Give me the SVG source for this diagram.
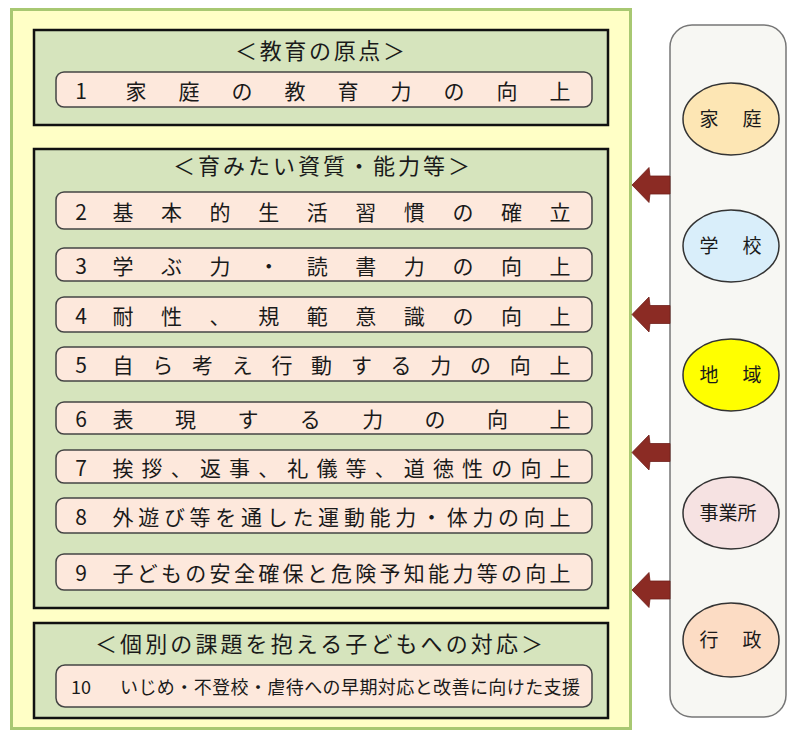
<svg xmlns="http://www.w3.org/2000/svg" width="787" height="733" viewBox="0 0 787 733">
<style>
.sec{fill:#d6e4bd;stroke:#111;stroke-width:2.5}
.pill{fill:#fde8dc;stroke:#444;stroke-width:1.5}
.ttl{font-family:"Noto Sans CJK JP","Noto Sans",sans-serif;font-size:22px;fill:#1a1a1a}
.it{font-family:"Noto Sans CJK JP","Noto Sans",sans-serif;font-size:21px;fill:#1a1a1a;text-anchor:middle}
.it10{font-family:"Noto Sans CJK JP","Noto Sans",sans-serif;font-size:18px;fill:#1a1a1a}
.ell{stroke:#333;stroke-width:1.5}
.et{font-family:"Noto Sans CJK JP","Noto Sans",sans-serif;font-size:19px;fill:#1a1a1a;text-anchor:middle}
.arr{fill:#8b2b24;stroke:#6e1f1a;stroke-width:0.8}
</style>
<rect x="0" y="0" width="787" height="733" fill="#ffffff"/>
<g id="outer">
<rect x="11.5" y="9.5" width="619" height="719" fill="#ffffc6" stroke="#a8c872" stroke-width="3"/>
</g>
<g id="panel">
<rect x="670" y="25" width="116" height="692" rx="22" fill="#f7f7f3" stroke="#777" stroke-width="1.5"/>
</g>

<g id="sec1">
<rect class="sec" x="34" y="30" width="574" height="95"/>
<text class="ttl" x="235" y="59" textLength="170" lengthAdjust="spacing">＜教育の原点＞</text>
</g>
<g id="item1">
<rect class="pill" x="56" y="72" width="536" height="35" rx="8"/>
<text class="it" x="81 136 189 242 295 348 401 454 507 560" y="98.5">1家庭の教育力の向上</text>
</g>

<g id="sec2">
<rect class="sec" x="34" y="149" width="574" height="459"/>
<text class="ttl" x="173" y="174" textLength="297" lengthAdjust="spacing">＜育みたい資質・能力等＞</text>
</g>
<g id="item2">
<rect class="pill" x="56" y="192" width="536" height="37" rx="8"/>
<text class="it" x="81 123 171.6 220.1 268.7 317.2 365.8 414.3 462.9 511.4 560" y="219.5">2基本的生活習慣の確立</text>
</g>
<g id="item3">
<rect class="pill" x="56" y="248" width="536" height="33" rx="8"/>
<text class="it" x="81 123 171.6 220.1 268.7 317.2 365.8 414.3 462.9 511.4 560" y="273.5">3学ぶ力・読書力の向上</text>
</g>
<g id="item4">
<rect class="pill" x="56" y="297" width="536" height="35" rx="8"/>
<text class="it" x="81 123 171.6 220.1 268.7 317.2 365.8 414.3 462.9 511.4 560" y="323.5">4耐性、規範意識の向上</text>
</g>
<g id="item5">
<rect class="pill" x="56" y="347" width="536" height="34" rx="8"/>
<text class="it" x="81 123 162.7 202.5 242.2 281.9 321.6 361.4 401.1 440.8 480.5 520.3 560" y="373">5自ら考え行動する力の向上</text>
</g>
<g id="item6">
<rect class="pill" x="56" y="402" width="536" height="32" rx="8"/>
<text class="it" x="81 123 185.4 247.9 310.3 372.7 435.1 497.6 560" y="427">6表現する力の向上</text>
</g>
<g id="item7">
<rect class="pill" x="56" y="450" width="536" height="33" rx="8"/>
<text class="it" x="81 123 152.1 181.3 210.4 239.5 268.7 297.8 326.9 356.1 385.2 414.3 443.5 472.6 501.7 530.9 560" y="475.5">7挨拶、返事、礼儀等、道徳性の向上</text>
</g>
<g id="item8">
<rect class="pill" x="56" y="498" width="536" height="35" rx="8"/>
<text class="it" x="81 123 148.7 174.4 200.1 225.8 251.5 277.2 302.9 328.6 354.4 380.1 405.8 431.5 457.2 482.9 508.6 534.3 560" y="524.5">8外遊び等を通した運動能力・体力の向上</text>
</g>
<g id="item9">
<rect class="pill" x="56" y="554" width="536" height="36" rx="8"/>
<text class="it" x="81 123 147.3 171.6 195.8 220.1 244.4 268.7 293 317.2 341.5 365.8 390.1 414.3 438.6 462.9 487.2 511.4 535.7 560" y="581">9子どもの安全確保と危険予知能力等の向上</text>
</g>

<g id="sec3">
<rect class="sec" x="34" y="623" width="574" height="95"/>
<text class="ttl" x="95" y="652" textLength="448" lengthAdjust="spacing">＜個別の課題を抱える子どもへの対応＞</text>
</g>
<g id="item10">
<rect class="pill" x="56" y="665" width="536" height="42" rx="9"/>
<text class="it10" x="71" y="694">10</text>
<text class="it10" x="120" y="694" textLength="460" lengthAdjust="spacing">いじめ・不登校・虐待への早期対応と改善に向けた支援</text>
</g>

<g id="katei">
<ellipse class="ell" cx="731" cy="119" rx="48" ry="36" fill="#fde6b4"/>
<text class="et" x="709 752" y="126">家庭</text>
</g>
<g id="gakko">
<ellipse class="ell" cx="731" cy="246" rx="48" ry="36" fill="#d9eefa"/>
<text class="et" x="709 752" y="253">学校</text>
</g>
<g id="chiiki">
<ellipse class="ell" cx="731" cy="375" rx="48" ry="36" fill="#ffff00"/>
<text class="et" x="709 752" y="382">地域</text>
</g>
<g id="jigyosho">
<ellipse class="ell" cx="731" cy="513" rx="48" ry="36" fill="#f6e2e2"/>
<text class="et" x="728" y="520">事業所</text>
</g>
<g id="gyosei">
<ellipse class="ell" cx="731" cy="640" rx="48" ry="37" fill="#fcdcc4"/>
<text class="et" x="709 752" y="647">行政</text>
</g>

<g id="connectors">
<polygon class="arr" points="632,185 649,167.5 650,176 670,176 670,194 650,194 649,202.5"/>
<polygon class="arr" points="632,314.5 649,297 650,305.5 670,305.5 670,323.5 650,323.5 649,332"/>
<polygon class="arr" points="632,452.5 649,435 650,443.5 670,443.5 670,461.5 650,461.5 649,470"/>
<polygon class="arr" points="632,590 649,572.5 650,581 670,581 670,599 650,599 649,607.5"/>
</g>
</svg>
